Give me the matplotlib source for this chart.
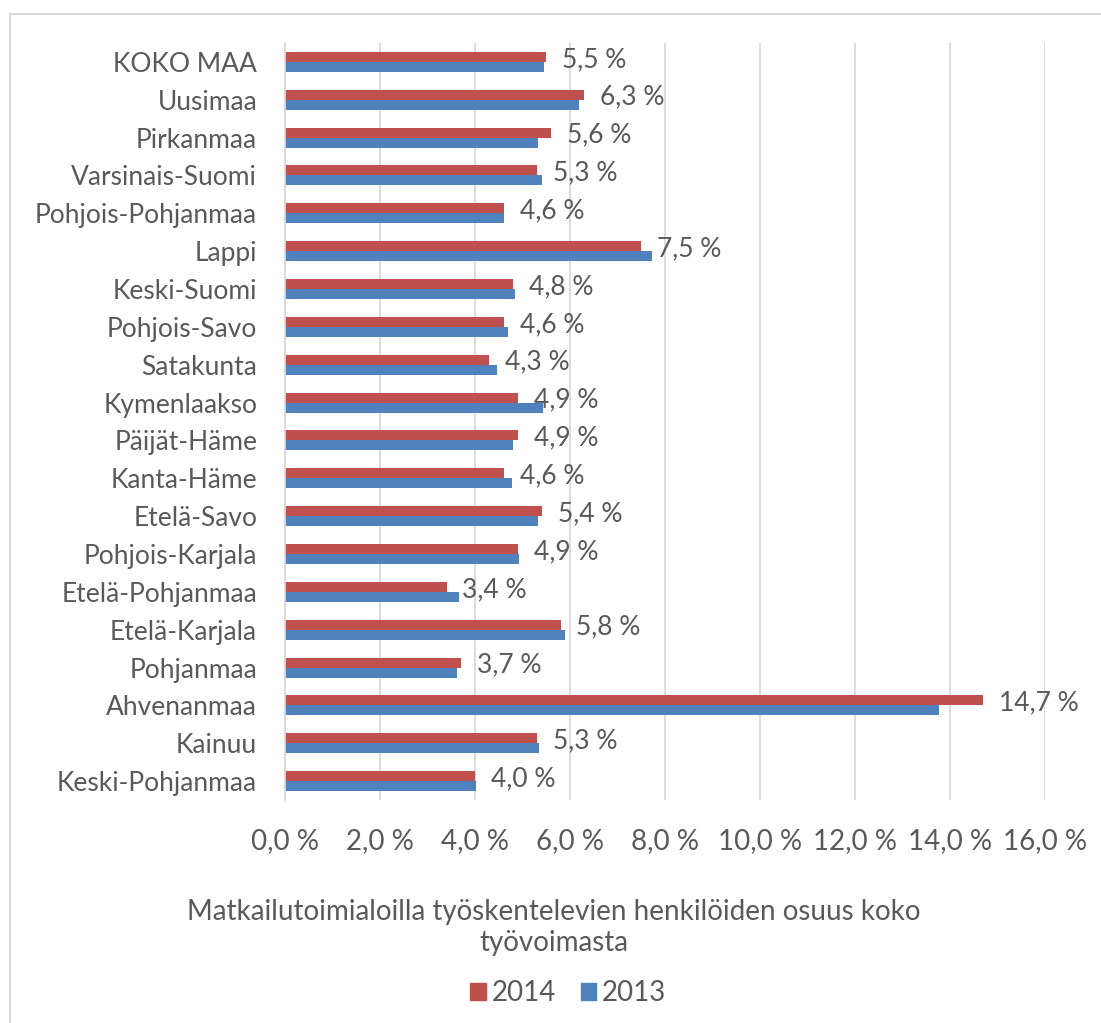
import matplotlib.pyplot as plt
from matplotlib.lines import Line2D
from matplotlib.patches import Patch
import numpy as np

regions = ["KOKO MAA", "Uusimaa", "Pirkanmaa", "Varsinais-Suomi", "Pohjois-Pohjanmaa",
           "Lappi", "Keski-Suomi", "Pohjois-Savo", "Satakunta", "Kymenlaakso",
           "Päijät-Häme", "Kanta-Häme", "Etelä-Savo", "Pohjois-Karjala",
           "Etelä-Pohjanmaa", "Etelä-Karjala", "Pohjanmaa", "Ahvenanmaa",
           "Kainuu", "Keski-Pohjanmaa"]
share_2014 = [5.5, 6.3, 5.6, 5.3, 4.6, 7.5, 4.8, 4.6, 4.3, 4.9,
              4.9, 4.6, 5.4, 4.9, 3.4, 5.8, 3.7, 14.7, 5.3, 4.0]
share_2013 = [5.46, 6.19, 5.33, 5.40, 4.60, 7.73, 4.85, 4.69, 4.46, 5.43,
              4.81, 4.77, 5.32, 4.93, 3.66, 5.89, 3.62, 13.77, 5.34, 4.03]
xticks = [0, 2, 4, 6, 8, 10, 12, 14, 16]

RED = "#C0504D"
BLUE = "#4F81BD"
TXT = "#595959"
GRID = "#D9D9D9"

plt.rcParams["font.family"] = ["Lato", "DejaVu Sans"]

fig = plt.figure(figsize=(11.01, 10.23), dpi=100)
ax = fig.add_axes([285 / 1101, 1 - 800 / 1023, 760 / 1101, 757 / 1023])

y = np.arange(len(regions))
h = 0.264
ax.barh(y - h / 2, share_2014, height=h, color=RED, label="2014")
ax.barh(y + h / 2, share_2013, height=h, color=BLUE, label="2013")

for yi, v in zip(y, share_2014):
    ax.annotate(f"{v:.1f} %".replace(".", ","), (v, yi - h / 4),
                xytext=(16, 0), textcoords="offset pixels",
                va="center", ha="left", fontsize=19, color=TXT)

ax.set_xlim(0, 16)
ax.set_ylim(len(regions) - 0.5, -0.5)
ax.set_xticks(xticks)
ax.set_xticklabels([f"{t:.1f} %".replace(".", ",") for t in xticks])
ax.set_yticks(y)
ax.set_yticklabels(regions)
ax.tick_params(axis="both", length=0, labelsize=19, labelcolor=TXT)
ax.tick_params(axis="x", labelsize=20)
ax.tick_params(axis="y", pad=20)
ax.tick_params(axis="x", pad=20)

ax.grid(axis="x", color=GRID, linewidth=1.3)
ax.set_axisbelow(True)
for s in ["top", "right", "bottom"]:
    ax.spines[s].set_visible(False)
ax.spines["left"].set_color(GRID)
ax.spines["left"].set_linewidth(1.3)

fig.text(0.503, 1 - 912 / 1023, "Matkailutoimialoilla työskentelevien henkilöiden osuus koko",
         ha="center", va="center", fontsize=20, color=TXT)
fig.text(0.503, 1 - 943 / 1023, "työvoimasta",
         ha="center", va="center", fontsize=20, color=TXT)

handles = [Patch(color=RED, label="2014"), Patch(color=BLUE, label="2013")]
leg = fig.legend(handles=handles, loc="center", bbox_to_anchor=(0.516, 1 - 993 / 1023),
                 ncol=2, frameon=False, fontsize=20, handlelength=0.55, handleheight=0.55,
                 handletextpad=0.2, columnspacing=0.9)
for t in leg.get_texts():
    t.set_color(TXT)

# outer chart border (only top and left visible in the crop)
fig.add_artist(Line2D([10 / 1101, 1], [1 - 13.5 / 1023] * 2, color=GRID, linewidth=1.5))
fig.add_artist(Line2D([10 / 1101] * 2, [0, 1 - 13.5 / 1023], color=GRID, linewidth=1.5))

fig.savefig("out.png", dpi=100, facecolor="white")
